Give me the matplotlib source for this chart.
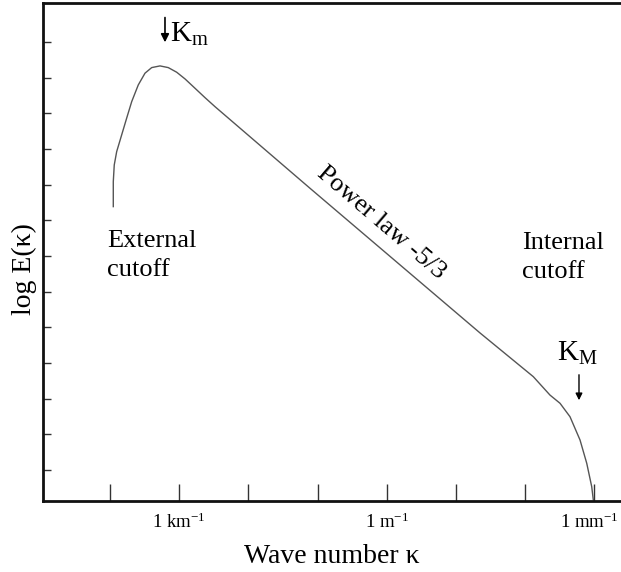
import numpy as np
import matplotlib
matplotlib.use("Agg")
import matplotlib.pyplot as plt
from matplotlib.transforms import ScaledTranslation

plt.rcParams["font.family"] = ["Liberation Serif", "DejaVu Serif"]
plt.rcParams["mathtext.fontset"] = "custom"
plt.rcParams["mathtext.rm"] = "Liberation Serif"
plt.rcParams["mathtext.it"] = "Liberation Serif:italic"

############### DATA ###############
# log10 of wave number (m^-1) and log E (arbitrary units)
log_kappa = [-3.952, -3.952, -3.938, -3.903, -3.831, -3.759, -3.686, -3.591,
             -3.494, -3.397, -3.277, -3.158, -3.036, -2.916, -2.772, -2.627,
             -2.483, -1.110, 1.347, 2.117, 2.358, 2.503, 2.647, 2.792,
             2.889, 2.961, 2.984]
log_E = [8.382, 9.083, 9.551, 9.924, 10.392, 10.860, 11.325, 11.793,
         12.122, 12.279, 12.326, 12.279, 12.149, 11.962, 11.701, 11.437,
         11.185, 8.897, 4.841, 3.616, 3.100, 2.870, 2.494, 1.841,
         1.188, 0.532, 0.159]

x_ticks = [-4, -3, -2, -1, 0, 1, 2, 3]
x_ticklabels = ["", r"1 km$^{\mathregular{-1}}$", "", "", r"1 m$^{\mathregular{-1}}$",
                "", "", r"1 mm$^{\mathregular{-1}}$"]
y_ticks = list(range(1, 14))
####################################

fig = plt.figure(figsize=(6.21, 5.72), dpi=100)
ax = fig.add_axes([0.0692, 0.1241, 0.9308, 0.8707])

ax.plot(log_kappa, log_E, color="#555555", lw=1.0)

ax.set_xlim(-4.968, 3.384)
ax.set_ylim(0.131, 14.09)

ax.set_xticks(x_ticks)
ax.set_xticklabels(x_ticklabels, fontsize=13.5)
ax.set_yticks(y_ticks)
ax.set_yticklabels([])
ax.tick_params(axis="x", direction="in", length=12, width=1, color="#333333", pad=8)
ax.tick_params(axis="y", direction="in", length=6, width=1, color="#333333")

# nudge the last label so it stays inside the figure
last = ax.get_xticklabels()[-1]
last.set_transform(last.get_transform() + ScaledTranslation(-4 / 72, 0, fig.dpi_scale_trans))

for s in ["left", "bottom", "top"]:
    ax.spines[s].set_linewidth(2)
    ax.spines[s].set_color("#111111")
ax.spines["right"].set_visible(False)

ax.set_xlabel("Wave number \u03ba", fontsize=20, labelpad=9)
ax.set_ylabel("log E(\u03ba)", fontsize=20)
ax.yaxis.set_label_coords(-0.011, 0.466)

# annotations
ax.text(-4.043, 7.72, "External\ncutoff", fontsize=19, ha="left", va="top", linespacing=1.4)
ax.text(1.954, 7.67, "Internal\ncutoff", fontsize=19, ha="left", va="top", linespacing=1.4)
ax.text(-0.08, 7.93, "Power law -5/3", fontsize=19, rotation=-40.5,
        ha="center", va="center", rotation_mode="anchor")

ax.text(-3.133, 13.22, r"K$_{\mathregular{m}}$", fontsize=21, ha="left", va="center")
ax.annotate("", xy=(-3.205, 12.91), xytext=(-3.205, 13.76),
            arrowprops=dict(arrowstyle="-|>", color="black", lw=1.2, mutation_scale=12))

ax.text(2.46, 4.28, r"K$_{\mathregular{M}}$", fontsize=21, ha="left", va="center")
ax.annotate("", xy=(2.777, 2.878), xytext=(2.777, 3.747),
            arrowprops=dict(arrowstyle="-|>", color="black", lw=1.0, mutation_scale=10))

plt.savefig("out.png", dpi=100)
